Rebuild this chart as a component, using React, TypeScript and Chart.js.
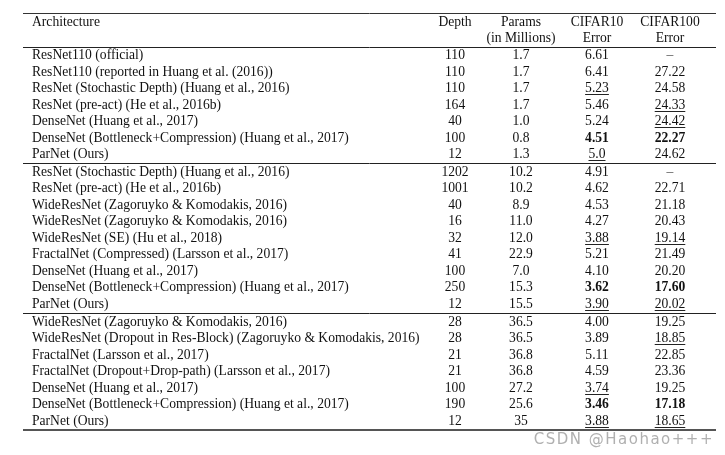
import React, { useEffect, useRef } from "react";
import { Chart, registerables } from "chart.js";

Chart.register(...registerables);

// ---- data ----
const headerTop = ["Architecture", "Depth", "Params", "CIFAR10", "CIFAR100"];
const headerBottom = ["", "", "(in Millions)", "Error", "Error"];

const architectures = [
  "ResNet110 (official)",
  "ResNet110 (reported in Huang et al. (2016))",
  "ResNet (Stochastic Depth) (Huang et al., 2016)",
  "ResNet (pre-act) (He et al., 2016b)",
  "DenseNet (Huang et al., 2017)",
  "DenseNet (Bottleneck+Compression) (Huang et al., 2017)",
  "ParNet (Ours)",
  "ResNet (Stochastic Depth) (Huang et al., 2016)",
  "ResNet (pre-act) (He et al., 2016b)",
  "WideResNet (Zagoruyko & Komodakis, 2016)",
  "WideResNet (Zagoruyko & Komodakis, 2016)",
  "WideResNet (SE) (Hu et al., 2018)",
  "FractalNet (Compressed) (Larsson et al., 2017)",
  "DenseNet (Huang et al., 2017)",
  "DenseNet (Bottleneck+Compression) (Huang et al., 2017)",
  "ParNet (Ours)",
  "WideResNet (Zagoruyko & Komodakis, 2016)",
  "WideResNet (Dropout in Res-Block) (Zagoruyko & Komodakis, 2016)",
  "FractalNet (Larsson et al., 2017)",
  "FractalNet (Dropout+Drop-path) (Larsson et al., 2017)",
  "DenseNet (Huang et al., 2017)",
  "DenseNet (Bottleneck+Compression) (Huang et al., 2017)",
  "ParNet (Ours)",
];
const depths = ["110", "110", "110", "164", "40", "100", "12", "1202", "1001", "40", "16", "32", "41", "100", "250", "12", "28", "28", "21", "21", "100", "190", "12"];
const params = ["1.7", "1.7", "1.7", "1.7", "1.0", "0.8", "1.3", "10.2", "10.2", "8.9", "11.0", "12.0", "22.9", "7.0", "15.3", "15.5", "36.5", "36.5", "36.8", "36.8", "27.2", "25.6", "35"];
const cifar10 = ["6.61", "6.41", "5.23", "5.46", "5.24", "4.51", "5.0", "4.91", "4.62", "4.53", "4.27", "3.88", "5.21", "4.10", "3.62", "3.90", "4.00", "3.89", "5.11", "4.59", "3.74", "3.46", "3.88"];
const cifar100 = ["–", "27.22", "24.58", "24.33", "24.42", "22.27", "24.62", "–", "22.71", "21.18", "20.43", "19.14", "21.49", "20.20", "17.60", "20.02", "19.25", "18.85", "22.85", "23.36", "19.25", "17.18", "18.65"];
// "b" = bold, "u" = underlined
const cifar10Marks = ["", "", "u", "", "", "b", "u", "", "", "", "", "u", "", "", "b", "u", "", "", "", "", "u", "b", "u"];
const cifar100Marks = ["", "", "", "u", "u", "b", "", "", "", "", "", "u", "", "", "b", "u", "", "u", "", "", "", "b", "u"];
const groupSizes = [7, 9, 7];
const watermark = "CSDN @Haohao+++";

// ---- layout ----
const W = 725;
const H = 455;
const ROW_H = 16.5;
const FIRST_BASELINE_PX = 59;
const GROUP_GAP = 0.09; // in row units
const colX = [32, 455, 521, 597, 670];
const colAlign: CanvasTextAlign[] = ["left", "center", "center", "center", "center"];
const headerY = [-2.03, -1.06];
const RULE_LEFT = 23;
const RULE_RIGHT = 716;
const FONT = "'Liberation Serif', 'Times New Roman', serif";
const FONT_SIZE = 13.6;

function rowPositions(): number[] {
  const out: number[] = [];
  let r = 0;
  groupSizes.forEach((n, g) => {
    for (let i = 0; i < n; i++) {
      out.push(r + g * GROUP_GAP);
      r++;
    }
  });
  return out;
}

export default function App() {
  const ref = useRef<HTMLCanvasElement | null>(null);

  useEffect(() => {
    document.body.style.margin = "0";
    const canvas = ref.current;
    if (!canvas) return;
    const rows = rowPositions();
    const columns = [architectures, depths, params, cifar10, cifar100];
    const marks = [null, null, null, cifar10Marks, cifar100Marks];

    const datasets = columns.map((col, c) => ({
      label: headerTop[c],
      data: col.map((_, i) => ({ x: colX[c], y: rows[i] })),
      pointRadius: 0,
      showLine: false,
    }));

    const lastG1 = rows[groupSizes[0] - 1];
    const lastG2 = rows[groupSizes[0] + groupSizes[1] - 1];
    const lastRow = rows[rows.length - 1];
    const rules = [
      { y: -2.79, w: 1, c: "#333" },
      { y: -0.74, w: 1, c: "#222" },
      { y: lastG1 + 0.29, w: 1, c: "#222" },
      { y: lastG2 + 0.31, w: 1, c: "#222" },
      { y: lastRow + 0.28, w: 2, c: "#555" },
    ];

    const tablePlugin = {
      id: "tablePlugin",
      afterDatasetsDraw(chart: any) {
        const ctx = chart.ctx as CanvasRenderingContext2D;
        const xs = chart.scales.x;
        const ys = chart.scales.y;
        ctx.save();
        rules.forEach((r) => {
          const py = Math.round(ys.getPixelForValue(r.y)) + (r.w % 2 ? 0.5 : 0);
          ctx.strokeStyle = r.c;
          ctx.lineWidth = r.w;
          ctx.beginPath();
          ctx.moveTo(xs.getPixelForValue(RULE_LEFT), py);
          ctx.lineTo(xs.getPixelForValue(RULE_RIGHT), py);
          ctx.stroke();
        });
        ctx.fillStyle = "#111";
        ctx.textBaseline = "alphabetic";
        headerTop.forEach((t, c) => {
          ctx.font = `${FONT_SIZE}px ${FONT}`;
          ctx.textAlign = colAlign[c];
          ctx.fillText(t, xs.getPixelForValue(colX[c]), ys.getPixelForValue(headerY[0]));
          if (headerBottom[c]) ctx.fillText(headerBottom[c], xs.getPixelForValue(colX[c]), ys.getPixelForValue(headerY[1]));
        });
        columns.forEach((col, c) => {
          const meta = chart.getDatasetMeta(c);
          meta.data.forEach((el: any, i: number) => {
            const m = marks[c] ? (marks[c] as string[])[i] : "";
            ctx.font = `${m === "b" ? "bold " : ""}${FONT_SIZE}px ${FONT}`;
            ctx.textAlign = colAlign[c];
            ctx.fillStyle = col[i] === "–" ? "#555" : "#111";
            ctx.fillText(col[i], el.x, el.y);
            if (m === "u") {
              const w = ctx.measureText(col[i]).width;
              const x0 = colAlign[c] === "center" ? el.x - w / 2 : el.x;
              const uy = Math.round(el.y + 2) + 0.5;
              ctx.strokeStyle = "#222";
              ctx.lineWidth = 1;
              ctx.beginPath();
              ctx.moveTo(x0, uy);
              ctx.lineTo(x0 + w, uy);
              ctx.stroke();
            }
          });
        });
        ctx.font = "15px 'DejaVu Sans', sans-serif";
        (ctx as any).letterSpacing = "1.5px";
        ctx.fillStyle = "#b0b0b0";
        ctx.textAlign = "right";
        ctx.fillText(watermark, xs.getPixelForValue(714), ys.getPixelForValue(lastRow + 1.13));
        ctx.restore();
      },
    };

    const yMin = -FIRST_BASELINE_PX / ROW_H;
    const yMax = (H - FIRST_BASELINE_PX) / ROW_H;

    const chart = new Chart(canvas, {
      type: "scatter",
      data: { datasets },
      options: {
        animation: false,
        responsive: false,
        devicePixelRatio: 1,
        layout: { padding: 0 },
        plugins: { legend: { display: false }, tooltip: { enabled: false } },
        scales: {
          x: { type: "linear", min: 0, max: W, display: false },
          y: { type: "linear", min: yMin, max: yMax, reverse: true, display: false },
        },
      },
      plugins: [tablePlugin],
    } as any);
    return () => chart.destroy();
  }, []);

  return (
    <div style={{ width: W, height: H, background: "#fff" }}>
      <canvas ref={ref} width={W} height={H} style={{ display: "block" }} />
    </div>
  );
}
